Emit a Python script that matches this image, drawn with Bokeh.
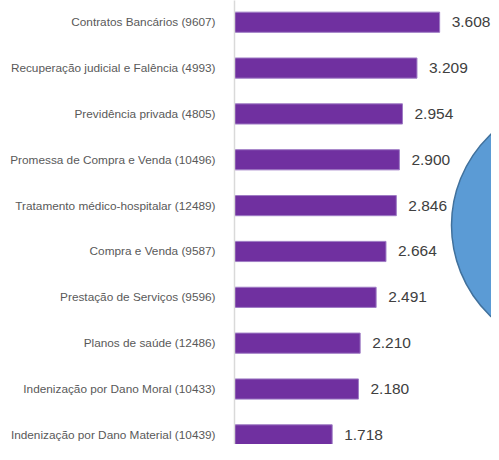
import numpy as np
from bokeh.plotting import figure
from bokeh.models import Range1d, FixedTicker, ColumnDataSource
from bokeh.embed import file_html
from bokeh.resources import INLINE
from bokeh.core.properties import value

categories = [
    "Contratos Bancários (9607)",
    "Recuperação judicial e Falência (4993)",
    "Previdência privada (4805)",
    "Promessa de Compra e Venda (10496)",
    "Tratamento médico-hospitalar (12489)",
    "Compra e Venda (9587)",
    "Prestação de Serviços (9596)",
    "Planos de saúde (12486)",
    "Indenização por Dano Moral (10433)",
    "Indenização por Dano Material (10439)",
]
values = [3608, 3209, 2954, 2900, 2846, 2664, 2491, 2210, 2180, 1718]
value_labels = [f"{v:,}".replace(",", ".") for v in values]

# decorative callout shape (partly outside the view, as in the reference)
CALLOUT_X = 6103
CALLOUT_Y = 4.43
CALLOUT_W = 4573
CALLOUT_H = 5.55

FONT = "Liberation Sans"

positions = list(range(len(categories)))
src = ColumnDataSource(dict(y=positions, v=values, lab=value_labels))

p = figure(width=491, height=444, output_backend="svg", toolbar_location=None,
           x_range=Range1d(0, 4520), y_range=Range1d(9.21, -0.474),
           x_axis_location=None,
           min_border_left=234, min_border_right=0, min_border_top=0, min_border_bottom=0)
p.background_fill_color = "white"
p.border_fill_color = "white"
p.outline_line_color = None
p.grid.visible = False

p.hbar(y="y", left=0, right="v", height=0.44, source=src,
       fill_color="#7030A0", line_color="#9E7BC4", line_width=1)
p.text(x="v", y="y", text="lab", source=src, x_offset=12,
       text_baseline="middle", text_align="left",
       text_font=value(FONT), text_font_size="15.5px", text_color="#404040")
p.ellipse(x=[CALLOUT_X], y=[CALLOUT_Y], width=[CALLOUT_W], height=[CALLOUT_H],
          fill_color="#5B9BD5", line_color="#41719C", line_width=1.5)

ya = p.yaxis[0]
ya.ticker = FixedTicker(ticks=positions)
ya.major_label_overrides = {i: c for i, c in zip(positions, categories)}
ya.axis_line_color = "#D9D9D9"
ya.axis_line_width = 1.5
ya.major_tick_line_color = None
ya.minor_tick_line_color = None
ya.major_label_standoff = 13
ya.major_label_text_font = FONT
ya.major_label_text_font_size = "11.8px"
ya.major_label_text_color = "#595959"

open("out.html", "w").write(file_html(p, INLINE))
